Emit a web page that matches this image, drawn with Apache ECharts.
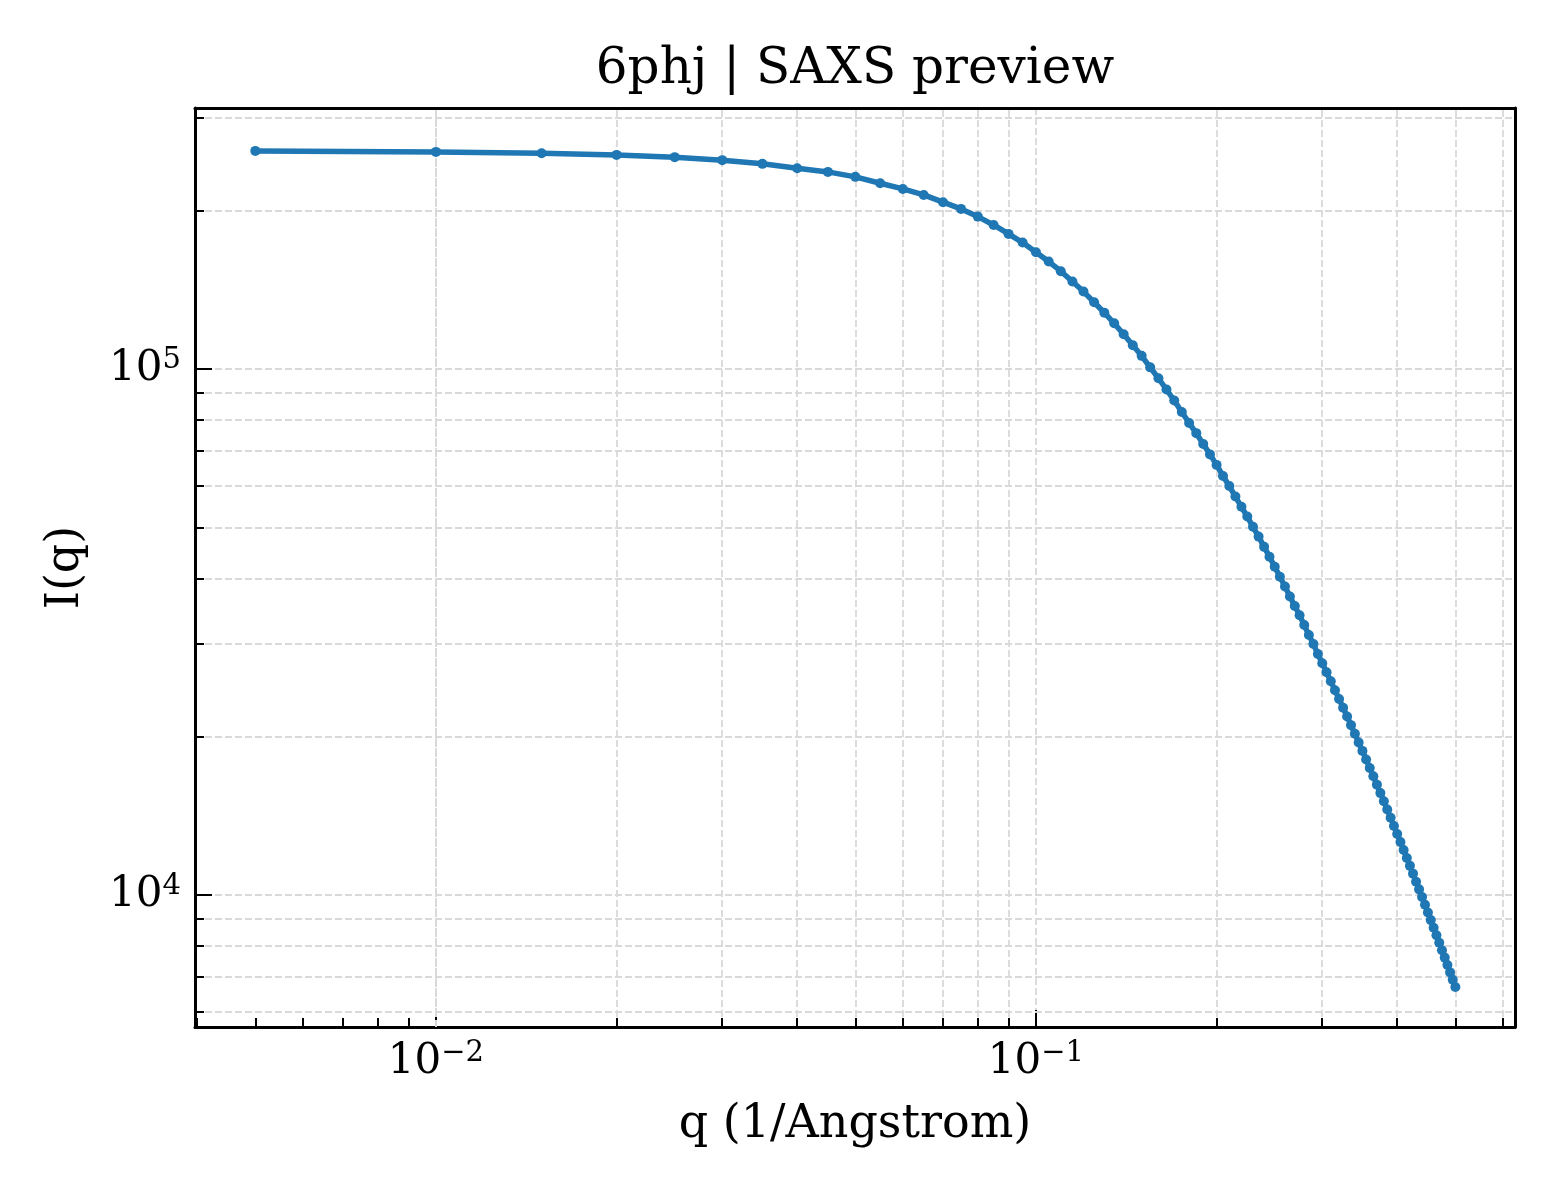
<!DOCTYPE html>
<html>
<head>
    <meta charset="utf-8">
    <title>6phj SAXS preview</title>
    <script src="https://cdn.jsdelivr.net/npm/echarts@6/dist/echarts.min.js"></script>
</head>
<body style="margin:0;background:#fff;">
    <div id="main" style="width:1560px;height:1200px;"></div>
    <script type="text/javascript">
        // q (1/Angstrom)
        var qValues = [
            0.005, 0.010, 0.015, 0.020, 0.025, 0.030, 0.035, 0.040, 0.045, 0.050,
            0.055, 0.060, 0.065, 0.070, 0.075, 0.080, 0.085, 0.090, 0.095, 0.100,
            0.105, 0.110, 0.115, 0.120, 0.125, 0.130, 0.135, 0.140, 0.145, 0.150,
            0.155, 0.160, 0.165, 0.170, 0.175, 0.180, 0.185, 0.190, 0.195, 0.200,
            0.205, 0.210, 0.215, 0.220, 0.225, 0.230, 0.235, 0.240, 0.245, 0.250,
            0.255, 0.260, 0.265, 0.270, 0.275, 0.280, 0.285, 0.290, 0.295, 0.300,
            0.305, 0.310, 0.315, 0.320, 0.325, 0.330, 0.335, 0.340, 0.345, 0.350,
            0.355, 0.360, 0.365, 0.370, 0.375, 0.380, 0.385, 0.390, 0.395, 0.400,
            0.405, 0.410, 0.415, 0.420, 0.425, 0.430, 0.435, 0.440, 0.445, 0.450,
            0.455, 0.460, 0.465, 0.470, 0.475, 0.480, 0.485, 0.490, 0.495, 0.500
        ];
        // I(q)
        var intensity = [
            259700, 258600, 257100, 255200, 252700, 249400, 245400, 240800, 236900, 231800,
            225400, 219900, 214200, 207500, 201500, 194800, 187800, 180600, 173900, 166700,
            160000, 153400, 146600, 140300, 133900, 127900, 122100, 116400, 110900, 105900,
            100700, 96000, 91400, 87100, 82800, 78900, 75500, 72000, 68800, 65700,
            62600, 59900, 57200, 54700, 52400, 50100, 48000, 45900, 43950, 42070,
            40270, 38580, 36930, 35420, 34010, 32600, 31200, 30000, 28710, 27570,
            26510, 25480, 24510, 23590, 22700, 21850, 21030, 20250, 19500, 18790,
            18100, 17440, 16810, 16210, 15620, 15070, 14540, 14020, 13530, 13060,
            12610, 12180, 11760, 11360, 10980, 10600, 10250, 9909, 9580, 9262,
            8959, 8666, 8386, 8116, 7853, 7603, 7361, 7126, 6902, 6684
        ];
        // minor tick positions (log axes)
        var xMinorTicks = [0.004, 0.005, 0.006, 0.007, 0.008, 0.009,
            0.02, 0.03, 0.04, 0.05, 0.06, 0.07, 0.08, 0.09,
            0.2, 0.3, 0.4, 0.5, 0.6];
        var yMinorTicks = [6000, 7000, 8000, 9000,
            20000, 30000, 40000, 50000, 60000, 70000, 80000, 90000,
            200000, 300000];

        var FONT = '"DejaVu Serif", serif';
        var gridLeft = 195, gridTop = 108, gridRight = 1515, gridBottom = 1027;
        var xMin = 0.0039666, xMax = 0.62859, yMin = 5611, yMax = 313360;

        var myChart = echarts.init(document.getElementById('main'));

        function powLabel(v) {
            var e = Math.round(Math.log10(v));
            return '{b|10}{s|' + (e < 0 ? '\u2212' + (-e) : e) + '}';
        }
        var labelRich = {
            b: { fontSize: 42, fontFamily: FONT, color: '#000', lineHeight: 46 },
            s: { fontSize: 29, fontFamily: FONT, color: '#000', verticalAlign: 'top', lineHeight: 30 }
        };
        var gridStyle = { color: '#d9d9d9', width: 1.8, type: [7, 3] };
        var frameLine = { show: true, lineStyle: { color: '#000', width: 3 } };

        var pairs = qValues.map(function (q, i) { return [q, intensity[i]]; });

        // minor grid lines + minor ticks through markLine
        var minorLines = [];
        xMinorTicks.forEach(function (v) { minorLines.push({ xAxis: v, lineStyle: gridStyle }); });
        yMinorTicks.forEach(function (v) { minorLines.push({ yAxis: v, lineStyle: gridStyle }); });
        var tickStyle = { color: '#000', width: 2, type: 'solid' };
        xMinorTicks.forEach(function (v) {
            minorLines.push([{ xAxis: v, yAxis: 10000, y: gridBottom, lineStyle: tickStyle },
                             { xAxis: v, yAxis: 10000, y: gridBottom - 9 }]);
        });
        yMinorTicks.forEach(function (v) {
            minorLines.push([{ xAxis: 0.1, yAxis: v, x: gridLeft, lineStyle: tickStyle },
                             { xAxis: 0.1, yAxis: v, x: gridLeft + 9 }]);
        });

        // frame-only axes for the top and right sides
        function frameAxis(pos, min, max) {
            return {
                type: 'log', logBase: 10, position: pos, min: min, max: max,
                axisLine: frameLine, axisTick: { show: false },
                axisLabel: { show: false }, splitLine: { show: false }
            };
        }

        var option = {
            backgroundColor: '#fff',
            animation: false,
            title: {
                text: '6phj | SAXS preview',
                left: (gridLeft + gridRight) / 2,
                textAlign: 'center',
                top: 45,
                padding: 0,
                textStyle: { fontFamily: FONT, fontSize: 50, fontWeight: 'normal', color: '#000' }
            },
            grid: {
                left: gridLeft, top: gridTop,
                width: gridRight - gridLeft, height: gridBottom - gridTop,
                show: true, borderColor: '#000', borderWidth: 0, backgroundColor: '#fff'
            },
            xAxis: [{
                type: 'log', logBase: 10, position: 'bottom',
                min: xMin, max: xMax,
                name: 'q (1/Angstrom)', nameLocation: 'middle', nameGap: 75,
                nameTextStyle: { fontFamily: FONT, fontSize: 46, color: '#000' },
                axisLine: frameLine,
                axisTick: { show: true, inside: true, length: 17, lineStyle: { color: '#000', width: 2 } },
                axisLabel: { formatter: powLabel, rich: labelRich, margin: 12, showMinLabel: false, showMaxLabel: false },
                splitLine: { show: true, lineStyle: gridStyle }
            }, frameAxis('top', xMin, xMax)],
            yAxis: [{
                type: 'log', logBase: 10, position: 'left',
                min: yMin, max: yMax,
                name: 'I(q)', nameLocation: 'middle', nameGap: 106, nameRotate: 90,
                nameTextStyle: { fontFamily: FONT, fontSize: 46, color: '#000' },
                axisLine: frameLine,
                axisTick: { show: true, inside: true, length: 17, lineStyle: { color: '#000', width: 2 } },
                axisLabel: { formatter: powLabel, rich: labelRich, margin: 14, showMinLabel: false, showMaxLabel: false },
                splitLine: { show: true, lineStyle: gridStyle }
            }, frameAxis('right', yMin, yMax)],
            series: [
                {
                    name: 'minor',
                    type: 'line',
                    data: [],
                    silent: true,
                    markLine: {
                        silent: true,
                        symbol: ['none', 'none'],
                        label: { show: false },
                        emphasis: { disabled: true },
                        data: minorLines
                    }
                },
                {
                    name: 'I(q)',
                    type: 'line',
                    data: pairs,
                    symbol: 'circle',
                    symbolSize: 10,
                    showSymbol: true,
                    showAllSymbol: true,
                    lineStyle: { color: '#1f77b4', width: 5.5 },
                    itemStyle: { color: '#1f77b4' },
                    z: 5
                }
            ]
        };

        myChart.setOption(option);
    </script>
</body>
</html>
